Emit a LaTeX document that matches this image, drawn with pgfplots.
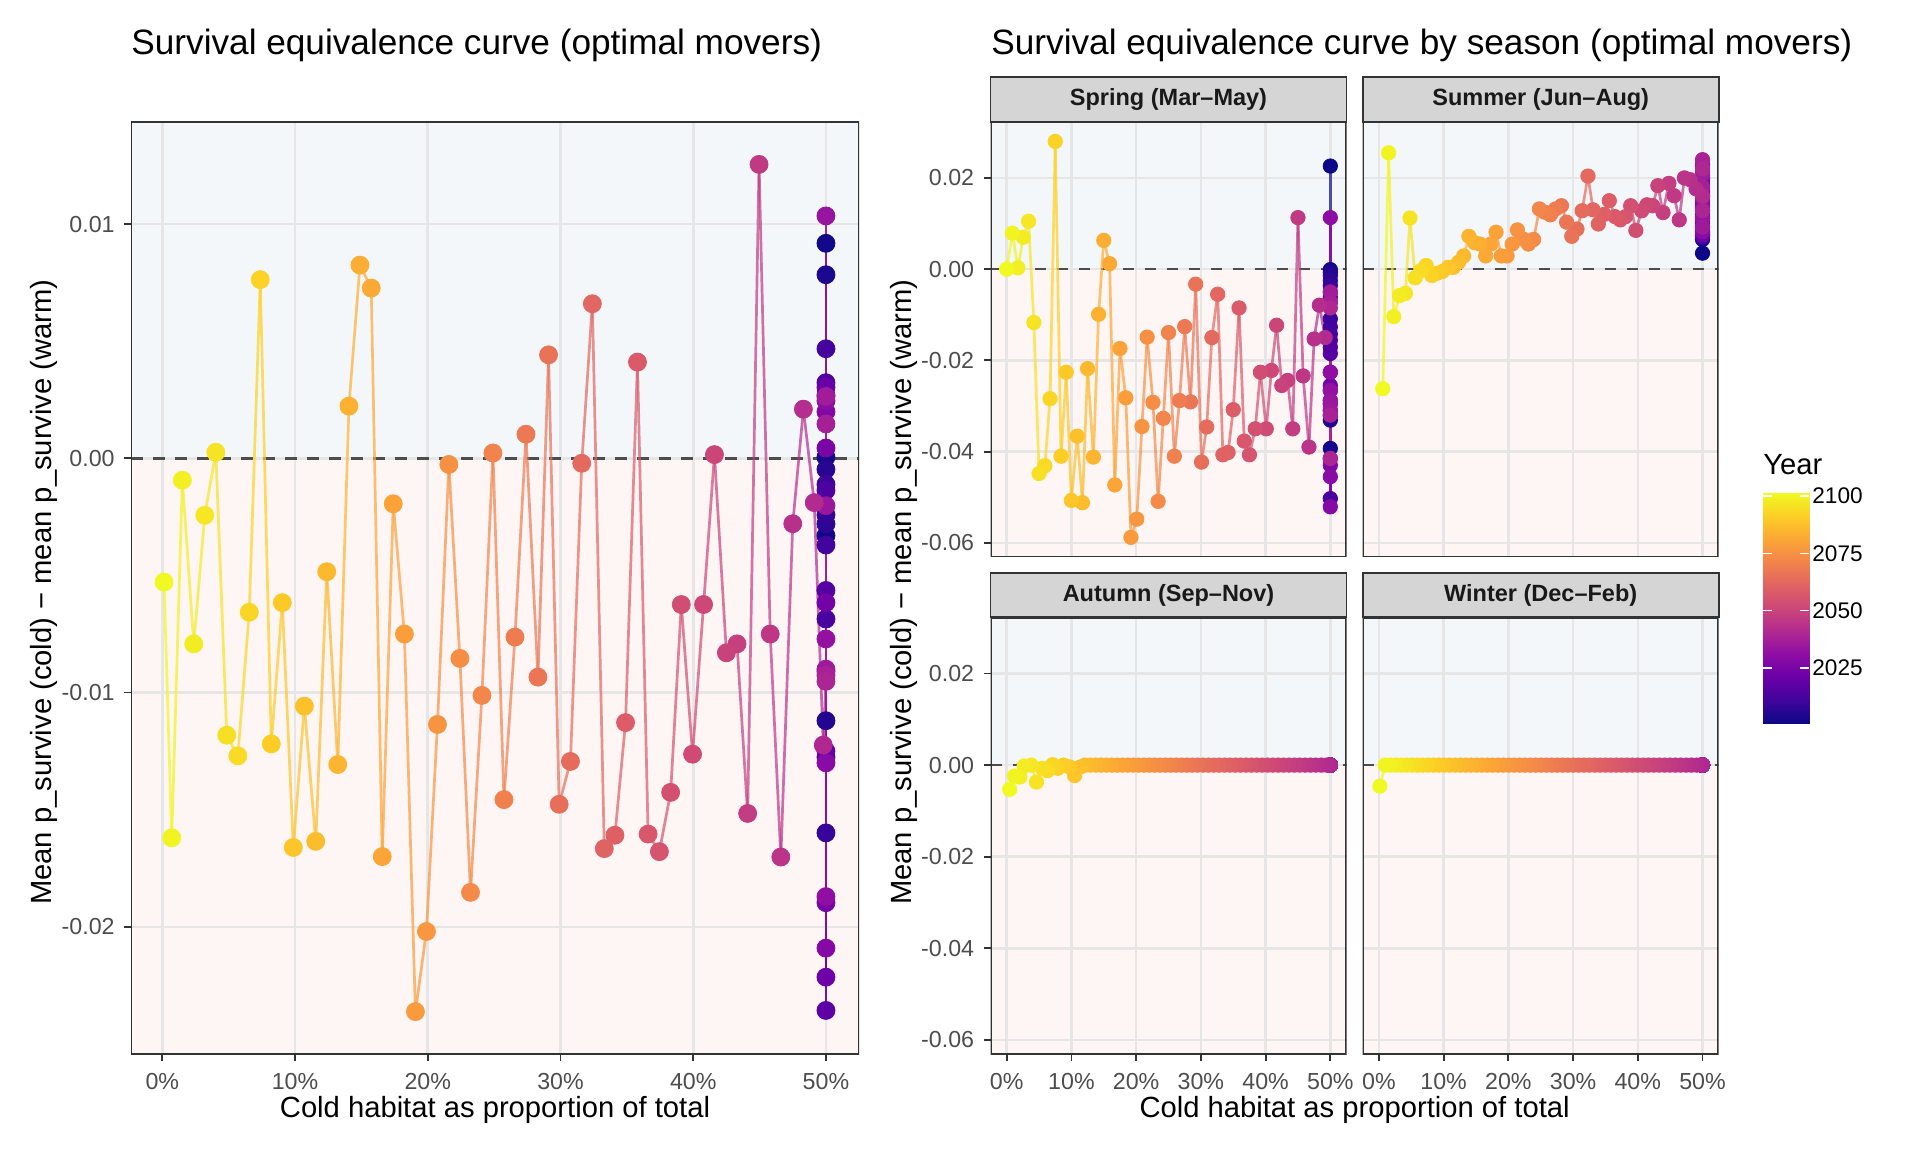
\documentclass[border=0pt]{standalone}
\usepackage{fontspec}
\setmainfont{Liberation Sans}
\usepackage{pgfplots}
\usepackage{pgfplotstable}
\pgfplotsset{compat=1.18}

\definecolor{gridc}{HTML}{E6E6E6}
\definecolor{borderc}{HTML}{333333}
\definecolor{tickc}{HTML}{4D4D4D}
\definecolor{bgblue}{RGB}{243,247,250}
\definecolor{bgpink}{RGB}{254,245,245}
\definecolor{stripc}{HTML}{D5D5D5}
\definecolor{zeroc}{HTML}{4D4D4D}

\pgfplotsset{colormap={plasma}{rgb255=(13,8,135) rgb255=(65,4,157) rgb255=(106,0,168) rgb255=(143,13,164) rgb255=(177,42,144) rgb255=(204,71,120) rgb255=(225,100,98) rgb255=(242,132,75) rgb255=(252,166,54) rgb255=(252,206,37) rgb255=(240,249,33)}}

\pgfplotsset{
 panel/.style={
  scale only axis, set layers, clip=true,
  anchor=south west,
  axis line style={draw=none},
  enlargelimits=false,
  scaled ticks=false,
  xmin=-2.5, xmax=52.5,
  xtick={0,10,20,30,40,50},
  grid=major, grid style={draw=gridc, line width=1.3pt},
  tick align=outside, major tick length=3.3pt,
  tick style={draw=borderc, line width=0.9pt},
  xtick pos=lower, ytick pos=left,
  ticklabel style={font=\fontsize{11.6}{13}\selectfont, text=tickc, inner sep=0pt},
  xticklabel style={anchor=north, yshift=-6pt},
  yticklabel style={anchor=east, xshift=-4.7pt},
  colormap name=plasma, point meta min=2001, point meta max=2100,
 },
 pctx/.style={xticklabels={0\%,10\%,20\%,30\%,40\%,50\%}},
 nox/.style={xmajorticks=false},
 noy/.style={ymajorticks=false},
 facety/.style={ymin=-0.0631, ymax=0.0323, ytick={-0.06,-0.04,-0.02,0,0.02}, yticklabels={-0.06,-0.04,-0.02,0.00,0.02}},
 pathline/.style={mesh, line width=1.35pt, opacity=0.7, point meta=explicit, forget plot},
 pts/.style={scatter, only marks, mark=*, point meta=explicit, scatter/use mapped color={draw=mapped color, fill=mapped color}, forget plot},
}

\pgfplotstableread[row sep=\\]{
x y yr\\
50 -0.0033 2001\\ 50 0.00918 2002\\ 50 0.00005 2003\\ 50 0.00784 2004\\ 50 -0.0112 2005\\
50 -0.00047 2006\\ 50 -0.0028 2007\\ 50 -0.00241 2008\\ 50 -0.01599 2009\\ 50 -0.00111 2010\\
50 -0.0037 2011\\ 50 0.00468 2012\\ 50 -0.00686 2013\\ 50 -0.00137 2014\\ 50 0.00323 2015\\
50 -0.00564 2016\\ 50 -0.01276 2017\\ 50 -0.02357 2018\\ 50 -0.0125 2019\\ 50 0.00303 2020\\
50 0.0027 2021\\ 50 -0.02215 2022\\ 50 -0.00616 2023\\ 50 -0.01897 2024\\ 50 0.00044 2025\\
50 -0.0091 2026\\ 50 0.00199 2027\\ 50 -0.02091 2028\\ 50 -0.0130 2029\\ 50 0.00246 2030\\
50 -0.01871 2031\\ 50 -0.00771 2032\\ 50 0.01035 2033\\ 50 -0.00202 2034\\ 50 -0.0090 2035\\
50 0.00264 2036\\ 50 0.00147 2037\\ 50 -0.00926 2038\\ 50 -0.00952 2039\\
49.80 -0.01224 2040\\ 49.12 -0.00189 2041\\ 48.30 0.0021 2042\\ 47.50 -0.00279 2043\\
46.60 -0.01702 2044\\ 45.80 -0.0075 2045\\ 44.96 0.01255 2046\\ 44.10 -0.01516 2047\\
43.30 -0.00792 2048\\ 42.50 -0.0083 2049\\ 41.60 0.00016 2050\\ 40.78 -0.00624 2051\\
39.95 -0.01263 2052\\ 39.10 -0.00624 2053\\ 38.30 -0.01426 2054\\ 37.45 -0.01679 2055\\
36.60 -0.01604 2056\\ 35.80 0.00411 2057\\ 34.90 -0.01128 2058\\ 34.10 -0.01609 2059\\
33.30 -0.01666 2060\\ 32.40 0.0066 2061\\ 31.60 -0.00021 2062\\ 30.75 -0.01294 2063\\
29.90 -0.01477 2064\\ 29.10 0.00442 2065\\ 28.30 -0.00934 2066\\ 27.40 0.00103 2067\\
26.57 -0.00763 2068\\ 25.74 -0.01457 2069\\ 24.91 0.00023 2070\\ 24.08 -0.01012 2071\\
23.22 -0.01853 2072\\ 22.42 -0.00854 2073\\ 21.59 -0.00026 2074\\ 20.73 -0.01136 2075\\
19.90 -0.0202 2076\\ 19.07 -0.02362 2077\\ 18.24 -0.0075 2078\\ 17.40 -0.00194 2079\\
16.57 -0.0170 2080\\ 15.74 0.00727 2081\\ 14.89 0.00825 2082\\ 14.06 0.00223 2083\\
13.22 -0.01307 2084\\ 12.39 -0.00484 2085\\ 11.56 -0.01635 2086\\ 10.70 -0.01058 2087\\
9.87 -0.01661 2088\\ 9.04 -0.00616 2089\\ 8.21 -0.01219 2090\\ 7.38 0.00763 2091\\
6.55 -0.00657 2092\\ 5.69 -0.0127 2093\\ 4.86 -0.01182 2094\\ 4.03 0.00026 2095\\
3.20 -0.00243 2096\\ 2.37 -0.00792 2097\\ 1.51 -0.00093 2098\\ 0.71 -0.0162 2099\\
0.13 -0.00528 2100\\
}\leftdata

\pgfplotstableread[row sep=\\]{
x y yr\\
50 0.0226 2001\\ 50 -0.0001 2002\\ 50 -0.0393 2003\\ 50 -0.0007 2004\\ 50 -0.0331 2005\\
50 -0.0014 2006\\ 50 -0.0025 2007\\ 50 -0.0320 2008\\ 50 -0.0036 2009\\ 50 -0.0109 2010\\
50 -0.0127 2011\\ 50 -0.0142 2012\\ 50 -0.0503 2013\\ 50 -0.0156 2014\\ 50 -0.0171 2015\\
50 -0.0185 2016\\ 50 -0.0050 2017\\ 50 -0.0288 2018\\ 50 -0.0061 2019\\ 50 -0.0295 2020\\
50 -0.0310 2021\\ 50 -0.0226 2022\\ 50 -0.0255 2023\\ 50 -0.0415 2024\\ 50 -0.0266 2025\\
50 -0.0072 2026\\ 50 -0.0430 2027\\ 50 -0.0521 2028\\ 50 -0.0455 2029\\ 50 0.0113 2030\\
50 -0.0226 2031\\ 50 -0.0266 2032\\ 50 -0.0288 2033\\ 50 -0.0295 2034\\ 50 -0.0310 2035\\
50 -0.0050 2036\\ 50 -0.0072 2037\\ 50 -0.0320 2038\\ 50 -0.0415 2039\\ 50 -0.0085 2040\\
49.2 -0.0150 2041\\ 48.3 -0.0079 2042\\ 47.5 -0.0153 2043\\ 46.7 -0.0390 2044\\
45.8 -0.0234 2045\\ 45.0 0.0113 2046\\ 44.2 -0.0350 2047\\ 43.4 -0.0244 2048\\
42.5 -0.0255 2049\\ 41.7 -0.0123 2050\\ 40.9 -0.0222 2051\\ 40.1 -0.0350 2052\\
39.2 -0.0226 2053\\ 38.4 -0.0350 2054\\ 37.5 -0.0407 2055\\ 36.7 -0.0377 2056\\
35.9 -0.0085 2057\\ 35.0 -0.0308 2058\\ 34.2 -0.0402 2059\\ 33.4 -0.0407 2060\\
32.6 -0.0055 2061\\ 31.7 -0.0150 2062\\ 30.9 -0.0346 2063\\ 30.1 -0.0423 2064\\
29.2 -0.0033 2065\\ 28.4 -0.0291 2066\\ 27.5 -0.0126 2067\\ 26.7 -0.0288 2068\\
25.9 -0.0410 2069\\ 25.0 -0.0139 2070\\ 24.2 -0.0327 2071\\ 23.4 -0.0509 2072\\
22.6 -0.0292 2073\\ 21.7 -0.0149 2074\\ 20.9 -0.0345 2075\\ 20.1 -0.0548 2076\\
19.2 -0.0588 2077\\ 18.4 -0.0282 2078\\ 17.5 -0.0174 2079\\ 16.7 -0.0473 2080\\
15.9 0.0012 2081\\ 15.0 0.0063 2082\\ 14.2 -0.0099 2083\\ 13.4 -0.0412 2084\\
12.5 -0.0218 2085\\ 11.7 -0.0512 2086\\ 10.9 -0.0366 2087\\ 10.0 -0.0507 2088\\
9.2 -0.0226 2089\\ 8.4 -0.0410 2090\\ 7.5 0.0280 2091\\ 6.7 -0.0284 2092\\
5.9 -0.0431 2093\\ 5.0 -0.0448 2094\\ 4.2 -0.0117 2095\\ 3.38 0.0105 2096\\
2.56 0.0070 2097\\ 1.74 0.0003 2098\\ 0.87 0.0079 2099\\ 0.0 0.0000 2100\\
}\springdata

\pgfplotstableread[row sep=\\]{
x y yr\\
50 0.0035 2001\\ 50 0.0075 2002\\ 50 0.0120 2003\\ 50 0.0065 2004\\ 50 0.0160 2005\\
50 0.0090 2006\\ 50 0.0140 2007\\ 50 0.0080 2008\\ 50 0.0110 2009\\ 50 0.0175 2010\\
50 0.0070 2011\\ 50 0.0150 2012\\ 50 0.0100 2013\\ 50 0.0195 2014\\ 50 0.0085 2015\\
50 0.0130 2016\\ 50 0.0205 2017\\ 50 0.0095 2018\\ 50 0.0165 2019\\ 50 0.0115 2020\\
50 0.0185 2021\\ 50 0.0075 2022\\ 50 0.0215 2023\\ 50 0.0125 2024\\ 50 0.0145 2025\\
50 0.0225 2026\\ 50 0.0105 2027\\ 50 0.0170 2028\\ 50 0.0082 2029\\ 50 0.0200 2030\\
50 0.0135 2031\\ 50 0.0230 2032\\ 50 0.0112 2033\\ 50 0.0155 2034\\ 50 0.0092 2035\\
50 0.0210 2036\\ 50 0.0180 2037\\ 50 0.0240 2038\\ 50 0.0128 2039\\ 50 0.0220 2040\\
50 0.0160 2041\\
49.0 0.0176 2042\\ 48.1 0.0196 2043\\ 47.2 0.0200 2044\\ 46.4 0.0108 2045\\
45.6 0.0161 2046\\ 44.8 0.0188 2047\\ 43.9 0.0124 2048\\ 43.1 0.0183 2049\\
42.3 0.0139 2050\\ 41.4 0.0141 2051\\ 40.6 0.0128 2052\\ 39.7 0.0085 2053\\
38.9 0.0139 2054\\ 38.1 0.0115 2055\\ 37.3 0.0108 2056\\ 36.5 0.0115 2057\\
35.6 0.0150 2058\\ 34.8 0.0120 2059\\ 33.9 0.0099 2060\\ 33.1 0.0130 2061\\
32.3 0.0204 2062\\ 31.4 0.0128 2063\\ 30.6 0.0088 2064\\ 29.8 0.0072 2065\\
29.0 0.0103 2066\\ 28.2 0.0139 2067\\ 27.3 0.0132 2068\\ 26.5 0.0119 2069\\
25.6 0.0125 2070\\ 24.8 0.0132 2071\\ 23.9 0.0065 2072\\ 23.1 0.0055 2073\\
22.3 0.0066 2074\\ 21.4 0.0086 2075\\ 20.6 0.0055 2076\\ 19.8 0.0029 2077\\
18.9 0.0029 2078\\ 18.1 0.0081 2079\\ 17.3 0.0055 2080\\ 16.5 0.0029 2081\\
15.6 0.0055 2082\\ 14.8 0.0058 2083\\ 13.9 0.0072 2084\\ 13.1 0.0029 2085\\
12.3 0.0015 2086\\ 11.5 0.0004 2087\\ 10.7 0.0004 2088\\ 9.8 -0.0005 2089\\
9.0 -0.0009 2090\\ 8.2 -0.0014 2091\\ 7.3 0.0008 2092\\ 6.5 -0.0003 2093\\
5.6 -0.0019 2094\\ 4.8 0.0112 2095\\ 4.1 -0.0053 2096\\ 3.2 -0.0058 2097\\
2.3 -0.0104 2098\\ 1.5 0.0255 2099\\ 0.6 -0.0262 2100\\
}\summerdata

\pgfplotstableread[row sep=\\]{
x y yr\\
50 0 2001\\ 50 0 2002\\ 50 0 2003\\ 50 0 2004\\ 50 0 2005\\ 50 0 2006\\ 50 0 2007\\ 50 0 2008\\
50 0 2009\\ 50 0 2010\\ 50 0 2011\\ 50 0 2012\\ 50 0 2013\\ 50 0 2014\\ 50 0 2015\\ 50 0 2016\\
50 0 2017\\ 50 0 2018\\ 50 0 2019\\ 50 0 2020\\ 50 0 2021\\ 50 0 2022\\ 50 0 2023\\ 50 0 2024\\
50 0 2025\\ 50 0 2026\\ 50 0 2027\\ 50 0 2028\\ 50 0 2029\\ 50 0 2030\\ 50 0 2031\\ 50 0 2032\\
50 0 2033\\ 50 0 2034\\ 50 0 2035\\ 50 0 2036\\ 50 0 2037\\ 50 0 2038\\ 50 0 2039\\ 50 0 2040\\
49.43 0 2041\\ 48.60 0 2042\\ 47.77 0 2043\\ 46.94 0 2044\\ 46.11 0 2045\\ 45.28 0 2046\\
44.45 0 2047\\ 43.62 0 2048\\ 42.79 0 2049\\ 41.96 0 2050\\ 41.13 0 2051\\ 40.30 0 2052\\
39.47 0 2053\\ 38.64 0 2054\\ 37.81 0 2055\\ 36.98 0 2056\\ 36.15 0 2057\\ 35.32 0 2058\\
34.49 0 2059\\ 33.66 0 2060\\ 32.83 0 2061\\ 32.00 0 2062\\ 31.17 0 2063\\ 30.34 0 2064\\
29.51 0 2065\\ 28.68 0 2066\\ 27.85 0 2067\\ 27.02 0 2068\\ 26.19 0 2069\\ 25.36 0 2070\\
24.53 0 2071\\ 23.70 0 2072\\ 22.87 0 2073\\ 22.04 0 2074\\ 21.21 0 2075\\ 20.38 0 2076\\
19.55 0 2077\\ 18.72 0 2078\\ 17.89 0 2079\\ 17.06 0 2080\\ 16.23 0 2081\\ 15.40 0 2082\\
14.57 0 2083\\ 13.74 0 2084\\ 12.91 0 2085\\ 12.08 0 2086\\
11.4 -0.0004 2087\\ 10.5 -0.0023 2088\\ 9.7 -0.0004 2089\\ 8.8 0.0000 2090\\
7.9 -0.0007 2091\\ 7.1 0.0001 2092\\ 6.3 -0.0012 2093\\ 5.5 -0.0007 2094\\
4.6 -0.0037 2095\\ 3.8 0.0000 2096\\ 2.7 -0.0002 2097\\ 2.05 -0.0026 2098\\
1.2 -0.0024 2099\\ 0.46 -0.0053 2100\\
}\autumndata

\pgfplotstableread[row sep=\\]{
x y yr\\
50 0 2001\\ 50 0 2002\\ 50 0 2003\\ 50 0 2004\\ 50 0 2005\\ 50 0 2006\\ 50 0 2007\\ 50 0 2008\\
50 0 2009\\ 50 0 2010\\ 50 0 2011\\ 50 0 2012\\ 50 0 2013\\ 50 0 2014\\ 50 0 2015\\ 50 0 2016\\
50 0 2017\\ 50 0 2018\\ 50 0 2019\\ 50 0 2020\\ 50 0 2021\\ 50 0 2022\\ 50 0 2023\\ 50 0 2024\\
50 0 2025\\ 50 0 2026\\ 50 0 2027\\ 50 0 2028\\ 50 0 2029\\ 50 0 2030\\ 50 0 2031\\ 50 0 2032\\
50 0 2033\\ 50 0 2034\\ 50 0 2035\\ 50 0 2036\\ 50 0 2037\\ 50 0 2038\\ 50 0 2039\\ 50 0 2040\\
49.12 0 2041\\ 48.29 0 2042\\ 47.46 0 2043\\ 46.63 0 2044\\ 45.80 0 2045\\ 44.97 0 2046\\
44.14 0 2047\\ 43.31 0 2048\\ 42.48 0 2049\\ 41.65 0 2050\\ 40.82 0 2051\\ 39.99 0 2052\\
39.16 0 2053\\ 38.33 0 2054\\ 37.50 0 2055\\ 36.67 0 2056\\ 35.84 0 2057\\ 35.01 0 2058\\
34.18 0 2059\\ 33.35 0 2060\\ 32.52 0 2061\\ 31.69 0 2062\\ 30.86 0 2063\\ 30.03 0 2064\\
29.20 0 2065\\ 28.37 0 2066\\ 27.54 0 2067\\ 26.71 0 2068\\ 25.88 0 2069\\ 25.05 0 2070\\
24.22 0 2071\\ 23.39 0 2072\\ 22.56 0 2073\\ 21.73 0 2074\\ 20.90 0 2075\\ 20.07 0 2076\\
19.24 0 2077\\ 18.41 0 2078\\ 17.58 0 2079\\ 16.75 0 2080\\ 15.92 0 2081\\ 15.09 0 2082\\
14.26 0 2083\\ 13.43 0 2084\\ 12.60 0 2085\\ 11.77 0 2086\\ 10.94 0 2087\\ 10.11 0 2088\\
9.28 0 2089\\ 8.45 0 2090\\ 7.62 0 2091\\ 6.79 0 2092\\ 5.96 0 2093\\ 5.13 0 2094\\
4.30 0 2095\\ 3.47 0 2096\\ 2.64 0 2097\\ 1.81 0 2098\\ 0.98 0 2099\\ 0.15 -0.0046 2100\\
}\winterdata

\newcommand{\bgfacet}{%
  \addplot[fill=bgblue, draw=none, on layer=axis background, forget plot] coordinates {(-2.5,0) (52.5,0) (52.5,0.0323) (-2.5,0.0323)} -- cycle;
  \addplot[fill=bgpink, draw=none, on layer=axis background, forget plot] coordinates {(-2.5,0) (52.5,0) (52.5,-0.0631) (-2.5,-0.0631)} -- cycle;
  \addplot[zeroc, line width=1.3pt, dash pattern=on 5.8pt off 5.2pt, forget plot] coordinates {(-2.5,0) (52.5,0)};
}
\newcommand{\frameit}{\draw[borderc, line width=1.3pt] (rel axis cs:0,0) rectangle (rel axis cs:1,1);}

\begin{document}
\begin{tikzpicture}

% ---------- Left panel ----------
\begin{axis}[panel, pctx, at={(65.5pt,49pt)}, width=364pt, height=466pt,
  xmin=-2.36, xmax=52.49, ymin=-0.02543, ymax=0.01436,
  ytick={-0.02,-0.01,0,0.01}, yticklabels={-0.02,-0.01,0.00,0.01}]
  \addplot[fill=bgblue, draw=none, on layer=axis background, forget plot] coordinates {(-2.36,0) (52.49,0) (52.49,0.01436) (-2.36,0.01436)} -- cycle;
  \addplot[fill=bgpink, draw=none, on layer=axis background, forget plot] coordinates {(-2.36,0) (52.49,0) (52.49,-0.02543) (-2.36,-0.02543)} -- cycle;
  \addplot[zeroc, line width=1.3pt, dash pattern=on 5.8pt off 5.2pt, forget plot] coordinates {(-2.36,0) (52.49,0)};
  \addplot[pathline] table[x=x, y=y, meta=yr]{\leftdata};
  \addplot[pts, mark size=4.5pt] table[x=x, y=y, meta=yr]{\leftdata};
  \frameit
\end{axis}

% ---------- Spring ----------
\begin{axis}[panel, facety, nox, at={(495.25pt,297.5pt)}, width=178pt, height=217.6pt]
  \bgfacet
  \addplot[pathline] table[x=x, y=y, meta=yr]{\springdata};
  \addplot[pts, mark size=3.6pt] table[x=x, y=y, meta=yr]{\springdata};
  \frameit
\end{axis}

% ---------- Summer ----------
\begin{axis}[panel, facety, nox, noy, at={(681.35pt,297.5pt)}, width=178pt, height=217.6pt]
  \bgfacet
  \addplot[pathline] table[x=x, y=y, meta=yr]{\summerdata};
  \addplot[pts, mark size=3.6pt] table[x=x, y=y, meta=yr]{\summerdata};
  \frameit
\end{axis}

% ---------- Autumn ----------
\begin{axis}[panel, facety, pctx, at={(495.25pt,49pt)}, width=178pt, height=218.4pt]
  \bgfacet
  \addplot[pathline] table[x=x, y=y, meta=yr]{\autumndata};
  \addplot[pts, mark size=3.6pt] table[x=x, y=y, meta=yr]{\autumndata};
  \frameit
\end{axis}

% ---------- Winter ----------
\begin{axis}[panel, facety, pctx, noy, at={(681.35pt,49pt)}, width=178pt, height=218.4pt]
  \bgfacet
  \addplot[pathline] table[x=x, y=y, meta=yr]{\winterdata};
  \addplot[pts, mark size=3.6pt] table[x=x, y=y, meta=yr]{\winterdata};
  \frameit
\end{axis}

% ---------- Colour bar ----------
\begin{axis}[at={(881.5pt,214.5pt)}, anchor=south west, scale only axis, width=23pt, height=115pt,
  xmin=0, xmax=1, ymin=2001, ymax=2101.3, enlargelimits=false, axis line style={draw=none}, axis on top,
  xtick=\empty, ytick={2025,2050,2075,2100}, yticklabels={2025,2050,2075,2100}, yticklabel pos=right,
  tick align=inside, major tick length=4.5pt, tick style={draw=white, line width=0.8pt},
  yticklabel style={font=\fontsize{11.3}{13}\selectfont, text=black, anchor=west, inner sep=0pt, xshift=1.5pt},
  colormap name=plasma, point meta min=2001, point meta max=2101.3]
  \addplot[surf, shader=interp, mesh/cols=2, point meta=y] coordinates {(0,2001) (1,2001) (0,2101.3) (1,2101.3)};
\end{axis}
\node[anchor=base west, inner sep=0pt, font=\fontsize{14.6}{16}\selectfont] at (881.5pt,338.5pt) {Year};

% ---------- Strips ----------
\begin{scope}[every node/.style={font=\fontsize{11.75}{13}\selectfont\bfseries, text=black!90, inner sep=0pt}]
\draw[borderc, line width=0.9pt, fill=stripc] (495.25pt,515.1pt) rectangle (673.25pt,537.3pt);
\node at (584.25pt,526.2pt) {Spring (Mar–May)};
\draw[borderc, line width=0.9pt, fill=stripc] (681.35pt,515.1pt) rectangle (859.35pt,537.3pt);
\node at (770.35pt,526.2pt) {Summer (Jun–Aug)};
\draw[borderc, line width=0.9pt, fill=stripc] (495.25pt,267.4pt) rectangle (673.25pt,289.6pt);
\node at (584.25pt,278.5pt) {Autumn (Sep–Nov)};
\draw[borderc, line width=0.9pt, fill=stripc] (681.35pt,267.4pt) rectangle (859.35pt,289.6pt);
\node at (770.35pt,278.5pt) {Winter (Dec–Feb)};
\end{scope}

% ---------- Titles ----------
\begin{scope}[every node/.style={inner sep=0pt}]
\node[anchor=base west, font=\fontsize{17.6}{20}\selectfont] at (65.5pt,548.5pt) {Survival equivalence curve (optimal movers)};
\node[anchor=base west, font=\fontsize{17.6}{20}\selectfont] at (495.5pt,548.5pt) {Survival equivalence curve by season (optimal movers)};
\node[anchor=base, font=\fontsize{14.6}{16}\selectfont] at (247.5pt,17.5pt) {Cold habitat as proportion of total};
\node[anchor=base, font=\fontsize{14.6}{16}\selectfont] at (677.3pt,17.5pt) {Cold habitat as proportion of total};
\node[anchor=base, rotate=90, font=\fontsize{14.6}{16}\selectfont] at (25.85pt,280pt) {Mean p\_survive (cold) − mean p\_survive (warm)};
\node[anchor=base, rotate=90, font=\fontsize{14.6}{16}\selectfont] at (455.5pt,280pt) {Mean p\_survive (cold) − mean p\_survive (warm)};
\end{scope}

\pgfresetboundingbox
\path[use as bounding box] (0,0) rectangle (960pt,576pt);
\end{tikzpicture}
\end{document}
